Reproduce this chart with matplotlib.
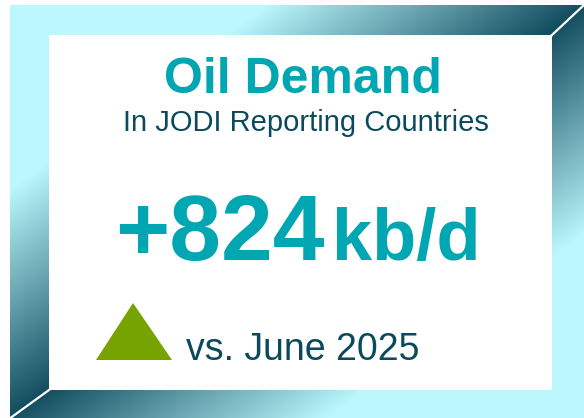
import numpy as np
import matplotlib
matplotlib.use('Agg')
import matplotlib.pyplot as plt
from matplotlib.patches import Rectangle, Polygon

# card content
title = 'Oil Demand'
subtitle = 'In JODI Reporting Countries'
change_value = 824
unit = 'kb/d'
comparison = 'vs. June 2025'

W, H = 584, 418
teal = '#00A6B1'
dark = '#0B4A5D'
green = '#77A300'
light_rgb = np.array([187, 247, 253]) / 255
dark_rgb = np.array([10, 68, 87]) / 255

plt.rcParams['font.family'] = ['Liberation Sans', 'DejaVu Sans']

fig = plt.figure(figsize=(W / 100, H / 100), dpi=100)
ax = fig.add_axes([0, 0, 1, 1])
ax.set_xlim(0, W)
ax.set_ylim(H, 0)
ax.axis('off')

# frame gradient (two bevel pieces, split at the top-right / bottom-left mitres)
X, Y = np.meshgrid(np.arange(W) + 0.5, np.arange(H) + 0.5)
top_left = (Y < 35 - (X - 552) * 30 / 32) & (Y < 390 + (49 - X) * 28 / 39)
d1 = X + 1.4 * Y
d2 = (594 - X) + 1.4 * (423 - Y)
d = np.where(top_left, d1, d2)
t = np.clip((d - 275) / 335, 0, 1)[..., None]
img = light_rgb * (1 - t) + dark_rgb * t
outside = (X < 10) | (Y < 5)
img[outside] = 1.0
ax.imshow(img, extent=(0, W, H, 0), interpolation='bilinear', zorder=0)

ax.add_patch(Rectangle((49, 35), 552 - 49, 390 - 35, facecolor='white', edgecolor='none', zorder=1))
ax.plot([552, 585], [35, 4], color='white', lw=1.6, zorder=2)
ax.plot([49, 9], [390, 419], color='white', lw=1.6, zorder=2)

ax.text(303, 93, title, color=teal, fontsize=36, fontweight='bold', ha='center', va='baseline', zorder=3)
ax.text(306, 131, subtitle, color=dark, fontsize=21, ha='center', va='baseline', zorder=3)

sign = '+' if change_value >= 0 else '-'
ax.text(115, 260, f'{sign}{change_value}', color=teal, fontsize=67, fontweight='bold', ha='left', va='baseline', zorder=3)
ax.text(332, 260, unit, color=teal, fontsize=52, fontweight='bold', ha='left', va='baseline', zorder=3)

if change_value >= 0:
    tri = [(96, 360), (172, 360), (133, 303)]
else:
    tri = [(96, 303), (172, 303), (133, 360)]
ax.add_patch(Polygon(tri, closed=True, facecolor=green, edgecolor='none', zorder=3))
ax.text(186, 360, comparison, color=dark, fontsize=27, ha='left', va='baseline', zorder=3)

fig.savefig('out.png', dpi=100)
